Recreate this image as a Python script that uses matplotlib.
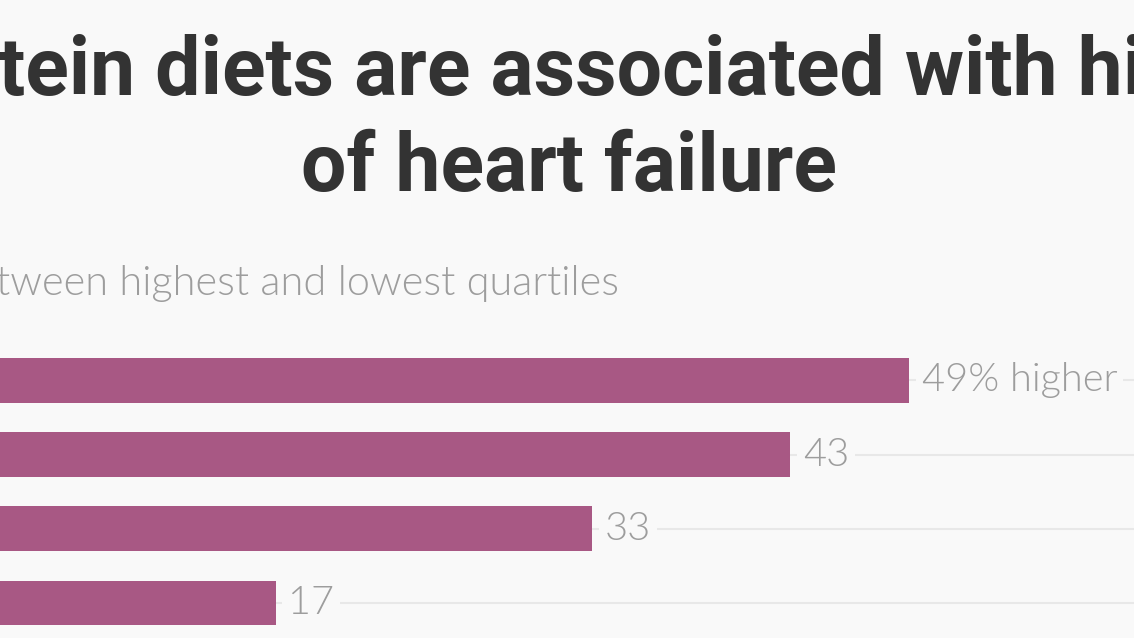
import matplotlib
matplotlib.use('Agg')
import matplotlib.pyplot as plt

# data (bars top to bottom)
categories = ['Dairy protein', 'Animal protein', 'Total protein', 'Plant protein']
values = [49, 43, 33, 17]
labels = ['49% higher', '43', '33', '17']

title_1 = 'High-protein diets are associated with higher risk'
title_2 = 'of heart failure'
subtitle = 'Difference in heart failure risk between highest and lowest quartiles'

BG = '#f9f9f9'
BAR = '#a85884'
TXT = '#333333'
GREY = '#9d9d9d'
GRID = '#e8e8e8'

TITLE_FONT = dict(fontsize=58, fontweight='bold', color=TXT, family=['Roboto', 'DejaVu Sans'])
LIGHT_FONT = dict(fontweight=300, color=GREY, family=['Lato', 'DejaVu Sans'])

W, H = 1134, 638
fig = plt.figure(figsize=(W / 100, H / 100), dpi=100, facecolor=BG)
renderer = fig.canvas.get_renderer()


def fx(px):
    return px / W


def fy(py):
    return 1 - py / H


def text_width(s, **kw):
    t = fig.text(0, 0, s, **kw)
    w = t.get_window_extent(renderer).width
    t.remove()
    return w


# title: the visible part of line 1 starts at "tein" on the left edge
cut = text_width('High-pro', **TITLE_FONT)
fig.text(fx(-cut - 2), fy(95), title_1, ha='left', va='baseline', **TITLE_FONT)
fig.text(fx(569), fy(191), title_2, ha='center', va='baseline', **TITLE_FONT)

# subtitle: visible part starts at "tween" on the left edge
sub_kw = dict(fontsize=29.9, **LIGHT_FONT)
cut = text_width('Difference in heart failure risk be', **sub_kw)
fig.text(fx(-cut - 4), fy(295), subtitle, ha='left', va='baseline', **sub_kw)

# axes: zero sits just left of the picture, one bar every ~74 px
x0_px, unit_px = -61, 19.8
xmax = 64
ax_top_px, ax_bot_px = 343.4, 640.1
ax = fig.add_axes([x0_px / W, 1 - ax_bot_px / H, xmax * unit_px / W,
                   (ax_bot_px - ax_top_px) / H])
ax.set_facecolor(BG)

pos = list(range(len(values)))
for p in pos:
    ax.axhline(p, color=GRID, lw=1.5, zorder=0)
ax.barh(pos, values, height=0.606, color=BAR, zorder=2)

for p, v, lab in zip(pos, values, labels):
    ax.annotate(lab, (v, p), xytext=(9, 0), textcoords='offset points',
                ha='left', va='center', fontsize=28.6, zorder=3,
                bbox=dict(boxstyle='square,pad=0.15', fc=BG, ec='none'),
                **LIGHT_FONT)

ax.set_xlim(0, xmax)
ax.set_ylim(len(values) - 0.5, -0.5)
ax.set_yticks(pos)
ax.set_yticklabels(categories)
ax.set_xticks([])
ax.tick_params(left=False)
for s in ax.spines.values():
    s.set_visible(False)

fig.savefig('out.png', dpi=100, facecolor=BG)
